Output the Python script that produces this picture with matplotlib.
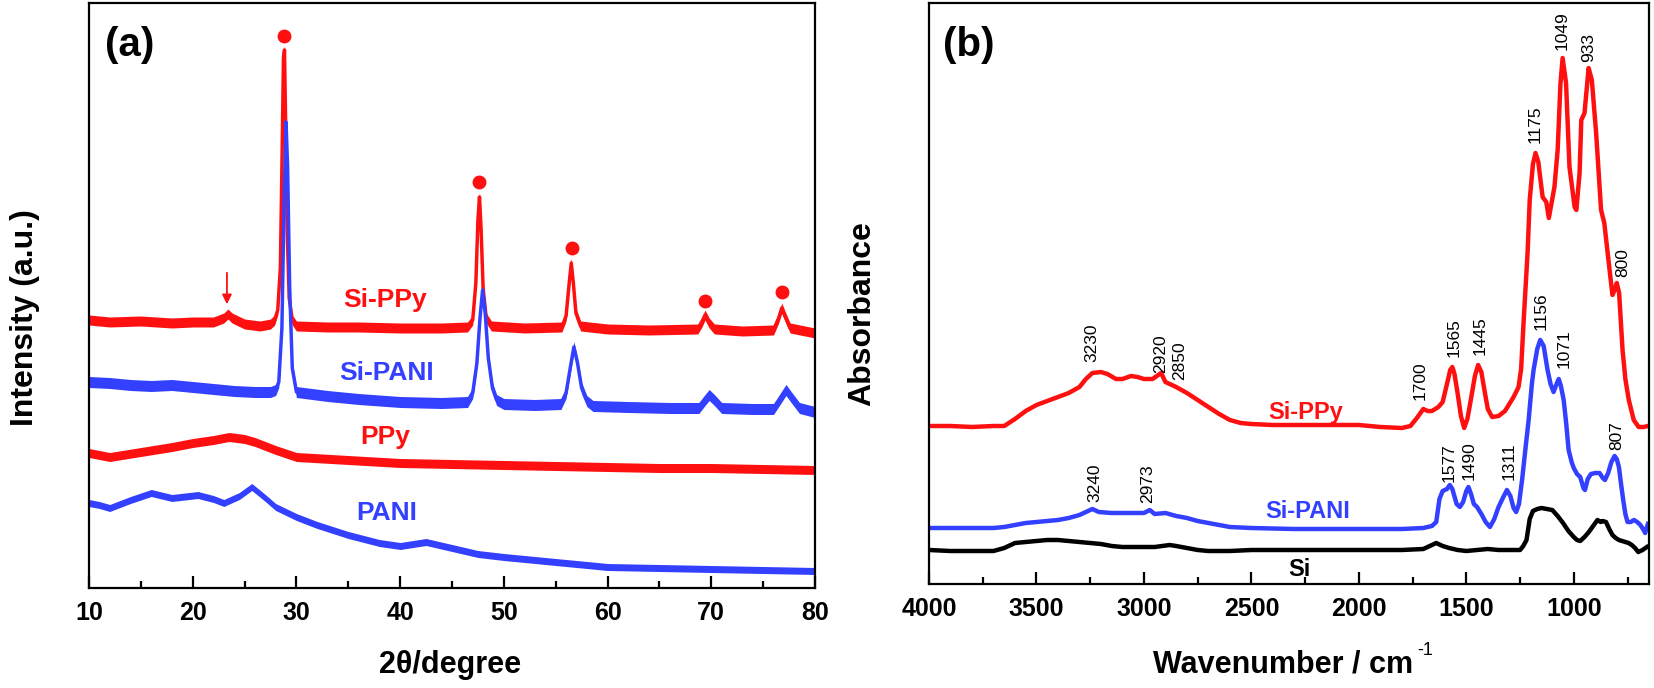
import numpy as np
import matplotlib
matplotlib.use("Agg")
import matplotlib.pyplot as plt
from matplotlib.ticker import MultipleLocator

plt.rcParams['font.family'] = ['Liberation Sans', 'DejaVu Sans']

RED = '#ff1010'
BLUE = '#3340ff'

# ---------------- (a) XRD data ----------------
sippy_2t = [10, 12, 15, 18, 20, 22, 23.0, 23.4, 23.8, 25, 26.5, 27.5, 27.9, 28.2, 28.45, 28.6, 28.75, 28.85,
            28.95, 29.1, 29.3, 29.6, 30.0, 33, 36, 40, 44, 46.5, 47.0, 47.3, 47.5, 47.65, 47.8, 48.0, 48.3,
            48.8, 52, 55.6, 56.0, 56.3, 56.5, 56.7, 56.95, 57.4, 60, 64, 68.7, 69.1, 69.4, 69.8, 70.3, 73,
            76.0, 76.5, 76.8, 77.1, 77.6, 80]
sippy_i = [268, 266, 267, 265, 266, 266, 270, 274, 270, 264, 262, 264, 268, 278, 320, 420, 530, 538,
           470, 360, 290, 268, 262, 261, 261, 260, 260, 261, 268, 305, 368, 391, 360, 300, 270,
           262, 260, 261, 272, 305, 325, 305, 275, 262, 259, 258, 259, 266, 273, 265, 259, 257,
           258, 270, 280, 272, 260, 255]

sipani_2t = [10, 12, 14, 16, 18, 20, 22, 24, 26, 27.5, 28.0, 28.3, 28.6, 28.8, 29.0, 29.15, 29.35, 29.6,
             30.0, 33, 36, 40, 44, 46.5, 47.0, 47.4, 47.7, 47.95, 48.2, 48.5, 48.9, 49.3, 50, 53,
             55.5, 56.0, 56.4, 56.75, 57.1, 57.5, 58.0, 58.6, 62, 66, 68.8, 69.4, 69.8, 70.3, 71,
             74, 76.0, 76.7, 77.2, 77.7, 78.5, 80]
sipani_i = [206, 205, 203, 202, 203, 201, 199, 197, 196, 196, 198, 206, 260, 380, 466, 420, 300, 220,
            196, 192, 189, 186, 185, 186, 195, 225, 270, 298, 275, 230, 200, 188, 184, 183,
            184, 195, 220, 241, 225, 200, 187, 182, 181, 180, 180, 188, 193, 188, 180,
            179, 179, 190, 198, 191, 180, 176]

ppy_2t = [10, 12, 15, 18, 20, 22, 23.5, 25, 26, 28, 30, 35, 40, 45, 50, 55, 60, 65, 70, 75, 80]
ppy_i = [135, 131, 136, 141, 145, 148, 151, 149, 146, 138, 131, 128, 125, 124, 123, 122, 121, 120, 120, 119, 118]

pani_2t = [10, 11, 12, 14, 16, 18, 20.5, 22, 23, 24.5, 25.7, 27, 28, 30, 32, 35, 38, 40, 42.5, 45,
           47.5, 50, 55, 60, 65, 70, 75, 80]
pani_i = [85, 83, 80, 88, 95, 90, 93, 89, 85, 92, 101, 90, 81, 71, 63, 53, 45, 42, 46, 40,
          34, 31, 26, 21, 20, 19, 18, 17]

xrd_peak_2t = [28.8, 47.65, 56.55, 69.4, 76.8]
xrd_peak_mark = [552, 406, 340, 287, 296]

xrd_labels = ['Si-PPy', 'Si-PANI', 'PPy', 'PANI']
xrd_label_x = [38.5, 38.7, 38.6, 38.75]
xrd_label_y = [288, 215, 151, 75]

# ---------------- (b) FTIR data ----------------
ftir_sippy_wn = [4000, 3900, 3800, 3700, 3650, 3600, 3550, 3500, 3450, 3400, 3350, 3300, 3270, 3240, 3200,
                 3170, 3130, 3100, 3060, 3030, 3000, 2960, 2940, 2920, 2900, 2870, 2850, 2800, 2750, 2700,
                 2650, 2600, 2550, 2500, 2400, 2300, 2200, 2100, 2000, 1900, 1800, 1760, 1730, 1700, 1680,
                 1660, 1630, 1610, 1590, 1575, 1565, 1555, 1540, 1525, 1510, 1495, 1480, 1460, 1445, 1430,
                 1415, 1400, 1380, 1350, 1320, 1280, 1257, 1245, 1233, 1215, 1205, 1190, 1178, 1165, 1145,
                 1128, 1116, 1090, 1075, 1062, 1052, 1036, 1020, 996, 988, 973, 965, 950, 931, 916, 896,
                 873, 858, 835, 820, 808, 800, 789, 773, 760, 744, 721, 698, 675, 655]
ftir_sippy_a = [158, 158, 157, 158, 158, 165, 173, 179, 183, 187, 191, 197, 205, 211, 212,
                210, 205, 205, 208, 207, 205, 205, 208, 211, 202, 199, 197, 191, 184, 177,
                170, 164, 161, 160, 159, 159, 159, 159, 159, 157, 156, 158, 166, 175, 173,
                173, 177, 182, 200, 214, 217, 210, 190, 168, 156, 165, 183, 208, 219, 212,
                193, 175, 167, 168, 173, 187, 197, 215, 264, 331, 384, 420, 431, 422, 387,
                382, 366, 397, 434, 500, 526, 501, 417, 377, 374, 411, 464, 471, 516, 504, 451,
                374, 361, 317, 289, 295, 301, 291, 234, 205, 184, 164, 157, 157, 158]

ftir_sipani_wn = [4000, 3900, 3800, 3700, 3650, 3600, 3550, 3500, 3450, 3400, 3350, 3300, 3270, 3240, 3210,
                  3150, 3100, 3050, 3000, 2973, 2950, 2900, 2850, 2800, 2750, 2700, 2650, 2600, 2500, 2300,
                  2100, 2000, 1800, 1700, 1660, 1640, 1625, 1610, 1590, 1577, 1565, 1545, 1530, 1515, 1500,
                  1490, 1478, 1465, 1450, 1430, 1410, 1390, 1370, 1350, 1330, 1311, 1295, 1280, 1268, 1255,
                  1240, 1224, 1210, 1195, 1187, 1170, 1156, 1140, 1122, 1108, 1094, 1080, 1070, 1060, 1047,
                  1035, 1024, 1010, 1000, 985, 970, 955, 948, 935, 920, 900, 880, 865, 855, 840, 825, 810,
                  800, 790, 780, 770, 760, 750, 735, 720, 705, 690, 675, 668, 655]
ftir_sipani_a = [56, 56, 56, 56, 57, 59, 61, 62, 63, 64, 66, 69, 72, 75, 72,
                 71, 71, 71, 71, 74, 70, 71, 68, 66, 63, 61, 59, 57, 56, 55,
                 55, 55, 55, 56, 58, 62, 85, 93, 95, 99, 95, 80, 77, 82, 93,
                 97, 90, 80, 77, 70, 62, 57, 65, 77, 86, 94, 88, 76, 72, 80,
                 105, 137, 164, 200, 214, 235, 244, 238, 214, 200, 192, 200, 205, 198, 184,
                 160, 134, 122, 116, 110, 107, 96, 94, 105, 110, 111, 111, 106, 104, 111, 122, 128,
                 125, 117, 100, 84, 70, 62, 62, 64, 62, 59, 54, 51, 60]

ftir_si_wn = [4000, 3900, 3800, 3700, 3650, 3600, 3550, 3500, 3450, 3400, 3350, 3300, 3250, 3200, 3150,
              3100, 3000, 2950, 2880, 2850, 2800, 2750, 2700, 2600, 2500, 2300, 2100, 2000, 1800, 1700,
              1670, 1640, 1610, 1580, 1540, 1500, 1450, 1400, 1350, 1300, 1250, 1235, 1220, 1205, 1190,
              1170, 1150, 1125, 1100, 1075, 1050, 1025, 1000, 985, 970, 950, 930, 910, 890, 875, 865,
              850, 835, 820, 805, 790, 775, 760, 745, 730, 715, 700, 680, 660]
ftir_si_a = [34, 33, 33, 33, 36, 41, 42, 43, 44, 44, 43, 42, 41, 40, 38,
             37, 37, 37, 39, 38, 36, 34, 33, 33, 34, 34, 34, 34, 34, 35,
             38, 41, 38, 36, 34, 33, 34, 35, 34, 34, 34, 38, 44, 65, 73,
             75, 76, 75, 74, 68, 61, 53, 47, 44, 43, 47, 52, 58, 64, 62, 63,
             62, 55, 49, 46, 44, 43, 42, 41, 39, 36, 32, 34, 37]

ftir_ann_text = ['1049', '933', '1175', '800', '1156', '1071', '1565', '1445', '1700',
                 '1577', '1490', '1311', '807', '3230', '2920', '2850', '3240', '2973']
ftir_ann_wn = [1052, 931, 1182, 772, 1154, 1047, 1559, 1434, 1713,
               1578, 1485, 1299, 800, 3241, 2924, 2836, 3227, 2985]
ftir_ann_y = [534, 522, 441, 307, 254, 216, 227, 229, 184,
              102, 104, 104, 134, 222, 211, 204, 82, 81]

ftir_labels = ['Si-PPy', 'Si-PANI', 'Si']
ftir_label_wn = [2249, 2239, 2277]
ftir_label_y = [172, 72, 15]
ftir_label_colors = [RED, BLUE, 'black']

W, H = 1654, 688
fig = plt.figure(figsize=(W / 100, H / 100), dpi=100)
axa = fig.add_axes([89 / W, 1 - 588 / H, (815 - 89) / W, 585 / H])
axb = fig.add_axes([929 / W, 1 - 584 / H, (1649 - 929) / W, 581 / H])

# ---- panel a ----
series_a = [(pani_2t, pani_i, BLUE, 3.5), (ppy_2t, ppy_i, RED, 4.5),
            (sippy_2t, sippy_i, RED, 5.0), (sipani_2t, sipani_i, BLUE, 5.5)]
for x, y, c, band in series_a:
    x = np.asarray(x, float)
    y = np.asarray(y, float)
    axa.fill_between(x, y - band, y + band, color=c, lw=0)
    axa.plot(x, y, color=c, lw=2.5, solid_joinstyle='round')

axa.plot(xrd_peak_2t, xrd_peak_mark, 'o', color=RED, ms=9, mec=RED)
axa.annotate('', xy=(23.3, 281), xytext=(23.3, 318),
             arrowprops=dict(arrowstyle='-|>', color=RED, lw=1.3, mutation_scale=14))
label_colors_a = [RED, BLUE, RED, BLUE]
for t, xx, yy, c in zip(xrd_labels, xrd_label_x, xrd_label_y, label_colors_a):
    axa.text(xx, yy, t, color=c, fontsize=19, fontweight='bold', ha='center', va='center')

axa.set_xlim(10, 80)
axa.set_ylim(0, 585)
axa.xaxis.set_major_locator(MultipleLocator(10))
axa.xaxis.set_minor_locator(MultipleLocator(5))
axa.set_yticks([])
axa.text(0.022, 0.928, '(a)', transform=axa.transAxes, fontsize=29, fontweight='bold', ha='left', va='center')
axa.set_xlabel('2θ/degree', fontsize=22, fontweight='bold')
axa.set_ylabel('Intensity (a.u.)', fontsize=23, fontweight='bold')
axa.xaxis.set_label_coords(0.497, -0.131)
axa.xaxis.label.set_va('center')
axa.yaxis.set_label_coords(-0.088, 0.463)
axa.yaxis.label.set_va('center')

# ---- panel b ----
for x, y, c in [(ftir_si_wn, ftir_si_a, 'black'), (ftir_sipani_wn, ftir_sipani_a, BLUE), (ftir_sippy_wn, ftir_sippy_a, RED)]:
    axb.plot(x, y, color=c, lw=3.2, solid_joinstyle='round')

for t, xx, yy in zip(ftir_ann_text, ftir_ann_wn, ftir_ann_y):
    axb.text(xx, yy, t, rotation=90, fontsize=12.5, ha='center', va='bottom', color='black')
for t, xx, yy, c in zip(ftir_labels, ftir_label_wn, ftir_label_y, ftir_label_colors):
    axb.text(xx, yy, t, color=c, fontsize=17, fontweight='bold', ha='center', va='center')

axb.set_xlim(4000, 650)
axb.set_ylim(0, 581)
axb.xaxis.set_major_locator(MultipleLocator(500))
axb.xaxis.set_minor_locator(MultipleLocator(250))
axb.set_yticks([])
axb.text(0.019, 0.928, '(b)', transform=axb.transAxes, fontsize=29, fontweight='bold', ha='left', va='center')
axb.set_xlabel('Wavenumber / cm', fontsize=22, fontweight='bold')
axb.set_ylabel('Absorbance', fontsize=23, fontweight='bold')
axb.xaxis.set_label_coords(0.4916, -0.139)
axb.xaxis.label.set_va('center')
axb.yaxis.set_label_coords(-0.093, 0.465)
axb.yaxis.label.set_va('center')

for ax in (axa, axb):
    for s in ax.spines.values():
        s.set_linewidth(1.6)
    ax.tick_params(axis='x', which='major', direction='in', length=8.5, width=1.6, labelsize=18, pad=9)
    ax.tick_params(axis='x', which='minor', direction='in', length=5, width=1.6)
    for lab in ax.get_xticklabels():
        lab.set_fontweight('bold')

# superscript "-1" after the x label of panel b
fig.canvas.draw()
bb = axb.xaxis.label.get_window_extent(renderer=fig.canvas.get_renderer())
fig.text((bb.x1 + 4) / W, (bb.y1 + 8) / H, '-1', fontsize=13, ha='left', va='top')

fig.savefig('out.png', dpi=100, facecolor='white')
